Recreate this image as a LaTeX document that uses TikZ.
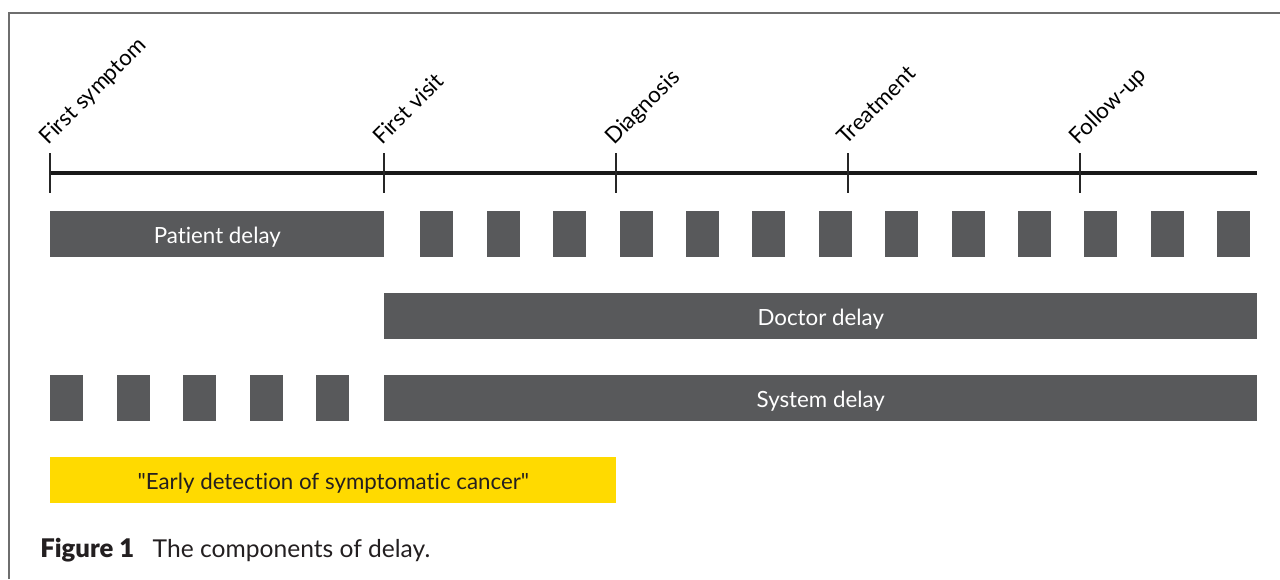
\documentclass[tikz,border=0pt]{standalone}
\usepackage{fontspec}
\setmainfont{Lato}[Ligatures={NoCommon}]
\newfontfamily\figfont{Lato}[UprightFont={* Black}]
\usepackage{tikz}
\usetikzlibrary{positioning,calc}

\definecolor{bargray}{RGB}{88,89,91}
\definecolor{framegray}{RGB}{110,110,110}
\definecolor{detyellow}{RGB}{255,218,0}
\definecolor{textdark}{RGB}{35,31,32}

\begin{document}
\begin{tikzpicture}[
  x = 0.02cm,
  y = -0.02cm,
  bar/.style = {
    fill = bargray,
    text = white,
    anchor = north west,
    inner sep = 0pt,
    minimum height = 0.92cm,
    text height = 10.4pt,
    text depth = 0pt,
    font = \fontsize{12.7}{15}\selectfont,
  },
  blk/.style = {
    fill = bargray,
    anchor = north west,
    inner sep = 0pt,
    minimum width = 0.66cm,
    minimum height = 0.92cm,
  },
  event/.style = {
    anchor = base west,
    rotate = 45,
    inner sep = 0pt,
    font = \fontsize{12.7}{15}\selectfont,
  },
]

  \useasboundingbox (0,0) rectangle (1280,579);

  % frame
  \draw[framegray, line width=0.8pt] (9,579) -- (9,13) -- (1280,13);

  % time line
  \coordinate (t0) at (50,173);
  \coordinate (t1) at (384,173);
  \coordinate (t2) at (616,173);
  \coordinate (t3) at (848,173);
  \coordinate (t4) at (1080,173);
  \coordinate (tend) at (1257,173);
  \draw[line width=2.6pt, black!90] (t0) -- (tend);
  \foreach \t in {t0,t1,t2,t3,t4}
    \draw[line width=0.7pt, black!85] ($(\t)+(0,-20)$) -- ($(\t)+(0,20)$);

  \node[event] (l0) at ($(t0)+(-2,-27)$) {First symptom};
  \node[event] (l1) at ($(t1)+(-2,-27)$) {First visit};
  \node[event] (l2) at ($(t2)+(-2,-27)$) {Diagnosis};
  \node[event] (l3) at ($(t3)+(-2,-27)$) {Treatment};
  \node[event] (l4) at ($(t4)+(-2,-27)$) {Follow-up};

  % delays
  \node[bar, minimum width=6.68cm] (patient) at (50,211) {Patient delay};
  \foreach \i in {0,...,12}
    \node[blk] (pgap\i) at ({420+66.4*\i},211) {};

  \node[bar, minimum width=17.46cm] (doctor) at (384,293) {Doctor delay};

  \foreach \i in {0,...,4}
    \node[blk] (sgap\i) at ({50+66.4*\i},375) {};
  \node[bar, minimum width=17.46cm] (system) at (384,375) {System delay};

  \node[bar, fill=detyellow, text=textdark, minimum width=11.32cm] (early)
    at (50,457) {\textquotedbl Early detection of symptomatic cancer\textquotedbl};

  % caption
  \node[anchor=base west, inner sep=0pt, font=\fontsize{14}{16}\selectfont,
    text=textdark] (caption) at (40,557)
    {{\figfont\fontsize{14.6}{16}\selectfont Figure 1}\hspace{0.75em}The components of delay.};
\end{tikzpicture}
\end{document}
